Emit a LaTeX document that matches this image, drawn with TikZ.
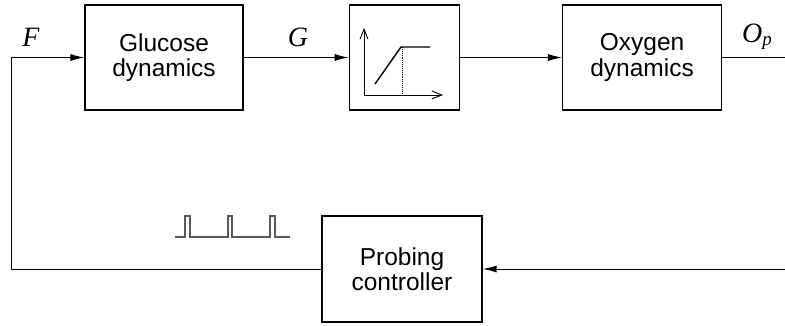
\documentclass[tikz,border=0pt]{standalone}
\usepackage{fontspec}
\setmainfont{Liberation Sans}
\newfontfamily\labelfont{Liberation Serif}
\usepackage{tikz}
\usetikzlibrary{arrows.meta,positioning,calc}

\begin{document}
\begin{tikzpicture}[
    x=1pt, y=-1pt,
    node distance=104pt,
    block/.style={rectangle, draw=black, line width=1.3pt, inner sep=0pt, align=center, minimum height=105pt, font=\fontsize{24.5}{25.5}\selectfont},
    sig/.style={font=\labelfont\itshape\fontsize{28}{28}\selectfont},
    arrow/.style={-{Latex[length=14pt,width=7pt]}, line width=1pt},
    wire/.style={line width=1pt},
    axis/.style={-{Straight Barb[length=10pt,width=8pt]}, line width=0.9pt}
]
    \useasboundingbox (0,0) rectangle (785,325);

    % top row
    \node [block, minimum width=158pt] (gluc) at (164,57.5) {Glucose\\dynamics};
    \node [block, minimum width=110pt, right=105pt of gluc] (sat) {};
    \node [block, minimum width=159pt, right=102pt of sat] (oxy) {Oxygen\\dynamics};

    % controller
    \node [block, minimum width=160pt, minimum height=106pt] (prob) at (402,269) {Probing\\controller};

    % saturation sketch
    \draw [axis] (364,95) -- (364,28);
    \draw [axis] (364,95) -- (443,95);
    \draw [line width=1.4pt] (375,84) -- (401,47) -- (430,47);
    \draw [densely dotted, line width=0.9pt] (402,47) -- (402,95);

    % pulses
    \draw [gray!70!black, line width=1.1pt] (175,237) -- (185,237) -- (185,216) -- (190,216) -- (190,237)
        -- (228,237) -- (228,216) -- (232,216) -- (232,237)
        -- (270,237) -- (270,216) -- (275,216) -- (275,237) -- (290,237);

    % signals
    \coordinate (fb) at (11,269);
    \coordinate (out) at (785,57.5);
    \coordinate (in) at (785,269);

    \draw [arrow] (prob.west) -- (fb) |- (gluc.west);
    \draw [arrow] (gluc.east) -- (sat.west);
    \draw [arrow] (sat.east) -- (oxy.west);
    \draw [wire] (oxy.east) -- (out);
    \draw [arrow] (in) -- (prob.east);

    \node [sig] (lF) at (31,37) {F};
    \node [sig] (lG) at (298,37) {G};
    \node [sig] (lO) at (757,37) {O\raisebox{-0.25ex}{\fontsize{19}{19}\selectfont p}};
\end{tikzpicture}
\end{document}
